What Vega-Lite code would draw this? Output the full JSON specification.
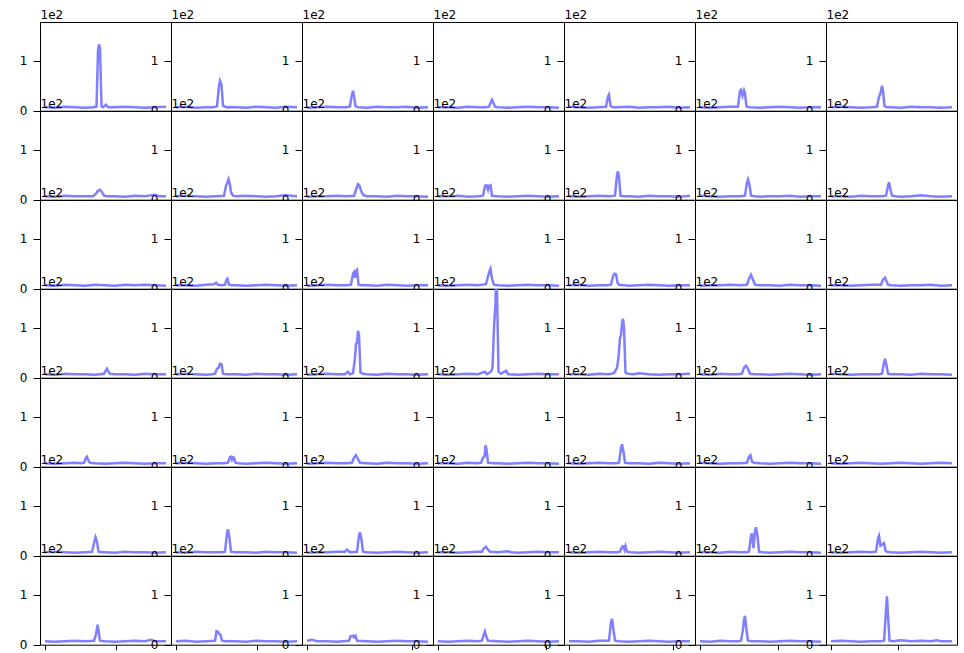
{"$schema":"https://vega.github.io/schema/vega-lite/v6.json","padding":{"left":18,"top":7,"right":5,"bottom":5},"bounds":"flush","spacing":0,
"data":{"values":[
{"r":0,"c":0,"x":0,"y":7},{"r":0,"c":0,"x":10,"y":6},{"r":0,"c":0,"x":20,"y":8},{"r":0,"c":0,"x":30,"y":7},{"r":0,"c":0,"x":40,"y":6},{"r":0,"c":0,"x":48,"y":7},{"r":0,"c":0,"x":51.5,"y":8},{"r":0,"c":0,"x":53,"y":120},{"r":0,"c":0,"x":54,"y":133},{"r":0,"c":0,"x":55,"y":125},{"r":0,"c":0,"x":56.5,"y":9},{"r":0,"c":0,"x":58,"y":7},{"r":0,"c":0,"x":61,"y":12},{"r":0,"c":0,"x":63,"y":7},{"r":0,"c":0,"x":70,"y":7},{"r":0,"c":0,"x":80,"y":8},{"r":0,"c":0,"x":90,"y":7},{"r":0,"c":0,"x":100,"y":6},{"r":0,"c":0,"x":110,"y":7},{"r":0,"c":0,"x":121,"y":8},
{"r":0,"c":1,"x":0,"y":7},{"r":0,"c":1,"x":10,"y":8},{"r":0,"c":1,"x":20,"y":6},{"r":0,"c":1,"x":30,"y":7},{"r":0,"c":1,"x":38,"y":7},{"r":0,"c":1,"x":41,"y":9},{"r":0,"c":1,"x":43,"y":50},{"r":0,"c":1,"x":44,"y":60},{"r":0,"c":1,"x":45.5,"y":52},{"r":0,"c":1,"x":47,"y":10},{"r":0,"c":1,"x":50,"y":7},{"r":0,"c":1,"x":60,"y":7},{"r":0,"c":1,"x":70,"y":6},{"r":0,"c":1,"x":80,"y":8},{"r":0,"c":1,"x":90,"y":7},{"r":0,"c":1,"x":100,"y":6},{"r":0,"c":1,"x":110,"y":8},{"r":0,"c":1,"x":121,"y":7},
{"r":0,"c":2,"x":0,"y":6},{"r":0,"c":2,"x":10,"y":7},{"r":0,"c":2,"x":20,"y":8},{"r":0,"c":2,"x":30,"y":7},{"r":0,"c":2,"x":40,"y":7},{"r":0,"c":2,"x":43,"y":9},{"r":0,"c":2,"x":44.5,"y":28},{"r":0,"c":2,"x":46,"y":40},{"r":0,"c":2,"x":47,"y":30},{"r":0,"c":2,"x":48.5,"y":9},{"r":0,"c":2,"x":51,"y":7},{"r":0,"c":2,"x":60,"y":6},{"r":0,"c":2,"x":70,"y":8},{"r":0,"c":2,"x":80,"y":7},{"r":0,"c":2,"x":90,"y":7},{"r":0,"c":2,"x":100,"y":8},{"r":0,"c":2,"x":110,"y":6},{"r":0,"c":2,"x":121,"y":7},
{"r":0,"c":3,"x":0,"y":7},{"r":0,"c":3,"x":10,"y":7},{"r":0,"c":3,"x":20,"y":6},{"r":0,"c":3,"x":30,"y":8},{"r":0,"c":3,"x":40,"y":7},{"r":0,"c":3,"x":48,"y":7},{"r":0,"c":3,"x":51,"y":8},{"r":0,"c":3,"x":53,"y":18},{"r":0,"c":3,"x":54,"y":22},{"r":0,"c":3,"x":55.5,"y":15},{"r":0,"c":3,"x":57,"y":8},{"r":0,"c":3,"x":60,"y":7},{"r":0,"c":3,"x":70,"y":6},{"r":0,"c":3,"x":80,"y":7},{"r":0,"c":3,"x":90,"y":8},{"r":0,"c":3,"x":100,"y":7},{"r":0,"c":3,"x":110,"y":7},{"r":0,"c":3,"x":121,"y":6},
{"r":0,"c":4,"x":0,"y":8},{"r":0,"c":4,"x":10,"y":7},{"r":0,"c":4,"x":20,"y":6},{"r":0,"c":4,"x":30,"y":7},{"r":0,"c":4,"x":37,"y":8},{"r":0,"c":4,"x":39,"y":28},{"r":0,"c":4,"x":40,"y":32},{"r":0,"c":4,"x":41.5,"y":10},{"r":0,"c":4,"x":44,"y":7},{"r":0,"c":4,"x":50,"y":7},{"r":0,"c":4,"x":60,"y":8},{"r":0,"c":4,"x":70,"y":6},{"r":0,"c":4,"x":80,"y":7},{"r":0,"c":4,"x":90,"y":7},{"r":0,"c":4,"x":100,"y":8},{"r":0,"c":4,"x":110,"y":6},{"r":0,"c":4,"x":121,"y":7},
{"r":0,"c":5,"x":0,"y":7},{"r":0,"c":5,"x":10,"y":6},{"r":0,"c":5,"x":20,"y":7},{"r":0,"c":5,"x":30,"y":8},{"r":0,"c":5,"x":38,"y":8},{"r":0,"c":5,"x":40,"y":40},{"r":0,"c":5,"x":41,"y":42},{"r":0,"c":5,"x":42.5,"y":30},{"r":0,"c":5,"x":44,"y":41},{"r":0,"c":5,"x":45,"y":35},{"r":0,"c":5,"x":46.5,"y":8},{"r":0,"c":5,"x":50,"y":7},{"r":0,"c":5,"x":60,"y":6},{"r":0,"c":5,"x":70,"y":7},{"r":0,"c":5,"x":80,"y":8},{"r":0,"c":5,"x":90,"y":7},{"r":0,"c":5,"x":100,"y":6},{"r":0,"c":5,"x":110,"y":7},{"r":0,"c":5,"x":121,"y":7},
{"r":0,"c":6,"x":0,"y":7},{"r":0,"c":6,"x":10,"y":8},{"r":0,"c":6,"x":20,"y":7},{"r":0,"c":6,"x":30,"y":6},{"r":0,"c":6,"x":40,"y":7},{"r":0,"c":6,"x":46,"y":8},{"r":0,"c":6,"x":48,"y":28},{"r":0,"c":6,"x":49.5,"y":35},{"r":0,"c":6,"x":51,"y":50},{"r":0,"c":6,"x":52,"y":40},{"r":0,"c":6,"x":53.5,"y":9},{"r":0,"c":6,"x":56,"y":7},{"r":0,"c":6,"x":60,"y":7},{"r":0,"c":6,"x":70,"y":6},{"r":0,"c":6,"x":80,"y":8},{"r":0,"c":6,"x":90,"y":7},{"r":0,"c":6,"x":100,"y":7},{"r":0,"c":6,"x":110,"y":6},{"r":0,"c":6,"x":121,"y":7},
{"r":1,"c":0,"x":0,"y":7},{"r":1,"c":0,"x":10,"y":6},{"r":1,"c":0,"x":20,"y":8},{"r":1,"c":0,"x":30,"y":7},{"r":1,"c":0,"x":40,"y":7},{"r":1,"c":0,"x":48,"y":7},{"r":1,"c":0,"x":51,"y":12},{"r":1,"c":0,"x":53,"y":18},{"r":1,"c":0,"x":55,"y":20},{"r":1,"c":0,"x":57,"y":15},{"r":1,"c":0,"x":59,"y":8},{"r":1,"c":0,"x":62,"y":7},{"r":1,"c":0,"x":70,"y":7},{"r":1,"c":0,"x":80,"y":6},{"r":1,"c":0,"x":90,"y":8},{"r":1,"c":0,"x":100,"y":7},{"r":1,"c":0,"x":110,"y":10},{"r":1,"c":0,"x":114,"y":7},{"r":1,"c":0,"x":121,"y":7},
{"r":1,"c":1,"x":0,"y":7},{"r":1,"c":1,"x":10,"y":8},{"r":1,"c":1,"x":20,"y":7},{"r":1,"c":1,"x":30,"y":6},{"r":1,"c":1,"x":40,"y":7},{"r":1,"c":1,"x":48,"y":8},{"r":1,"c":1,"x":50,"y":28},{"r":1,"c":1,"x":51,"y":32},{"r":1,"c":1,"x":52.5,"y":41},{"r":1,"c":1,"x":54,"y":30},{"r":1,"c":1,"x":55,"y":15},{"r":1,"c":1,"x":57,"y":8},{"r":1,"c":1,"x":60,"y":7},{"r":1,"c":1,"x":70,"y":8},{"r":1,"c":1,"x":80,"y":7},{"r":1,"c":1,"x":90,"y":6},{"r":1,"c":1,"x":100,"y":7},{"r":1,"c":1,"x":110,"y":9},{"r":1,"c":1,"x":121,"y":7},
{"r":1,"c":2,"x":0,"y":6},{"r":1,"c":2,"x":10,"y":7},{"r":1,"c":2,"x":20,"y":7},{"r":1,"c":2,"x":30,"y":8},{"r":1,"c":2,"x":40,"y":7},{"r":1,"c":2,"x":47,"y":8},{"r":1,"c":2,"x":49,"y":20},{"r":1,"c":2,"x":51,"y":31},{"r":1,"c":2,"x":52.5,"y":28},{"r":1,"c":2,"x":54,"y":18},{"r":1,"c":2,"x":56,"y":10},{"r":1,"c":2,"x":58,"y":8},{"r":1,"c":2,"x":60,"y":7},{"r":1,"c":2,"x":70,"y":7},{"r":1,"c":2,"x":80,"y":6},{"r":1,"c":2,"x":90,"y":8},{"r":1,"c":2,"x":100,"y":7},{"r":1,"c":2,"x":110,"y":7},{"r":1,"c":2,"x":121,"y":6},
{"r":1,"c":3,"x":0,"y":7},{"r":1,"c":3,"x":10,"y":7},{"r":1,"c":3,"x":20,"y":8},{"r":1,"c":3,"x":30,"y":6},{"r":1,"c":3,"x":40,"y":7},{"r":1,"c":3,"x":45,"y":8},{"r":1,"c":3,"x":47,"y":28},{"r":1,"c":3,"x":48.5,"y":29},{"r":1,"c":3,"x":50,"y":20},{"r":1,"c":3,"x":51,"y":28},{"r":1,"c":3,"x":52.5,"y":29},{"r":1,"c":3,"x":54,"y":8},{"r":1,"c":3,"x":60,"y":7},{"r":1,"c":3,"x":70,"y":6},{"r":1,"c":3,"x":80,"y":7},{"r":1,"c":3,"x":90,"y":8},{"r":1,"c":3,"x":100,"y":7},{"r":1,"c":3,"x":110,"y":6},{"r":1,"c":3,"x":121,"y":7},
{"r":1,"c":4,"x":0,"y":7},{"r":1,"c":4,"x":10,"y":6},{"r":1,"c":4,"x":20,"y":7},{"r":1,"c":4,"x":30,"y":8},{"r":1,"c":4,"x":40,"y":7},{"r":1,"c":4,"x":46,"y":8},{"r":1,"c":4,"x":48,"y":50},{"r":1,"c":4,"x":49,"y":57},{"r":1,"c":4,"x":50,"y":45},{"r":1,"c":4,"x":51.5,"y":8},{"r":1,"c":4,"x":55,"y":7},{"r":1,"c":4,"x":60,"y":7},{"r":1,"c":4,"x":70,"y":6},{"r":1,"c":4,"x":80,"y":8},{"r":1,"c":4,"x":90,"y":7},{"r":1,"c":4,"x":100,"y":7},{"r":1,"c":4,"x":110,"y":6},{"r":1,"c":4,"x":121,"y":8},
{"r":1,"c":5,"x":0,"y":8},{"r":1,"c":5,"x":10,"y":7},{"r":1,"c":5,"x":20,"y":6},{"r":1,"c":5,"x":30,"y":7},{"r":1,"c":5,"x":40,"y":7},{"r":1,"c":5,"x":45,"y":8},{"r":1,"c":5,"x":47,"y":35},{"r":1,"c":5,"x":48,"y":41},{"r":1,"c":5,"x":49.5,"y":30},{"r":1,"c":5,"x":51,"y":8},{"r":1,"c":5,"x":55,"y":7},{"r":1,"c":5,"x":60,"y":6},{"r":1,"c":5,"x":70,"y":7},{"r":1,"c":5,"x":80,"y":7},{"r":1,"c":5,"x":90,"y":8},{"r":1,"c":5,"x":100,"y":6},{"r":1,"c":5,"x":110,"y":7},{"r":1,"c":5,"x":121,"y":7},
{"r":1,"c":6,"x":0,"y":7},{"r":1,"c":6,"x":10,"y":7},{"r":1,"c":6,"x":20,"y":6},{"r":1,"c":6,"x":30,"y":8},{"r":1,"c":6,"x":40,"y":7},{"r":1,"c":6,"x":50,"y":7},{"r":1,"c":6,"x":55,"y":8},{"r":1,"c":6,"x":57,"y":28},{"r":1,"c":6,"x":58,"y":35},{"r":1,"c":6,"x":59.5,"y":20},{"r":1,"c":6,"x":61,"y":8},{"r":1,"c":6,"x":65,"y":7},{"r":1,"c":6,"x":70,"y":6},{"r":1,"c":6,"x":80,"y":7},{"r":1,"c":6,"x":90,"y":9},{"r":1,"c":6,"x":100,"y":7},{"r":1,"c":6,"x":110,"y":6},{"r":1,"c":6,"x":121,"y":7},
{"r":2,"c":0,"x":0,"y":7},{"r":2,"c":0,"x":10,"y":6},{"r":2,"c":0,"x":20,"y":8},{"r":2,"c":0,"x":30,"y":7},{"r":2,"c":0,"x":40,"y":6},{"r":2,"c":0,"x":50,"y":8},{"r":2,"c":0,"x":60,"y":7},{"r":2,"c":0,"x":70,"y":6},{"r":2,"c":0,"x":80,"y":8},{"r":2,"c":0,"x":90,"y":7},{"r":2,"c":0,"x":100,"y":8},{"r":2,"c":0,"x":110,"y":7},{"r":2,"c":0,"x":121,"y":6},
{"r":2,"c":1,"x":0,"y":7},{"r":2,"c":1,"x":10,"y":7},{"r":2,"c":1,"x":20,"y":6},{"r":2,"c":1,"x":30,"y":8},{"r":2,"c":1,"x":38,"y":9},{"r":2,"c":1,"x":40,"y":12},{"r":2,"c":1,"x":42,"y":8},{"r":2,"c":1,"x":46,"y":7},{"r":2,"c":1,"x":49,"y":8},{"r":2,"c":1,"x":50.5,"y":18},{"r":2,"c":1,"x":51.5,"y":20},{"r":2,"c":1,"x":53,"y":8},{"r":2,"c":1,"x":56,"y":7},{"r":2,"c":1,"x":60,"y":7},{"r":2,"c":1,"x":70,"y":6},{"r":2,"c":1,"x":80,"y":7},{"r":2,"c":1,"x":90,"y":8},{"r":2,"c":1,"x":100,"y":7},{"r":2,"c":1,"x":110,"y":6},{"r":2,"c":1,"x":121,"y":7},
{"r":2,"c":2,"x":0,"y":6},{"r":2,"c":2,"x":10,"y":7},{"r":2,"c":2,"x":20,"y":8},{"r":2,"c":2,"x":30,"y":7},{"r":2,"c":2,"x":40,"y":7},{"r":2,"c":2,"x":44,"y":8},{"r":2,"c":2,"x":46,"y":30},{"r":2,"c":2,"x":47,"y":33},{"r":2,"c":2,"x":48,"y":22},{"r":2,"c":2,"x":49,"y":36},{"r":2,"c":2,"x":50,"y":38},{"r":2,"c":2,"x":51.5,"y":8},{"r":2,"c":2,"x":55,"y":7},{"r":2,"c":2,"x":60,"y":7},{"r":2,"c":2,"x":70,"y":6},{"r":2,"c":2,"x":80,"y":8},{"r":2,"c":2,"x":90,"y":7},{"r":2,"c":2,"x":100,"y":6},{"r":2,"c":2,"x":110,"y":7},{"r":2,"c":2,"x":121,"y":7},
{"r":2,"c":3,"x":0,"y":7},{"r":2,"c":3,"x":10,"y":6},{"r":2,"c":3,"x":20,"y":7},{"r":2,"c":3,"x":30,"y":8},{"r":2,"c":3,"x":40,"y":7},{"r":2,"c":3,"x":48,"y":9},{"r":2,"c":3,"x":50,"y":25},{"r":2,"c":3,"x":51.5,"y":35},{"r":2,"c":3,"x":52.5,"y":40},{"r":2,"c":3,"x":54,"y":20},{"r":2,"c":3,"x":56,"y":8},{"r":2,"c":3,"x":60,"y":7},{"r":2,"c":3,"x":70,"y":6},{"r":2,"c":3,"x":80,"y":7},{"r":2,"c":3,"x":90,"y":8},{"r":2,"c":3,"x":100,"y":7},{"r":2,"c":3,"x":110,"y":7},{"r":2,"c":3,"x":121,"y":6},
{"r":2,"c":4,"x":0,"y":7},{"r":2,"c":4,"x":10,"y":8},{"r":2,"c":4,"x":20,"y":6},{"r":2,"c":4,"x":30,"y":7},{"r":2,"c":4,"x":38,"y":7},{"r":2,"c":4,"x":42,"y":8},{"r":2,"c":4,"x":44,"y":25},{"r":2,"c":4,"x":45.5,"y":30},{"r":2,"c":4,"x":47,"y":29},{"r":2,"c":4,"x":48.5,"y":12},{"r":2,"c":4,"x":50,"y":8},{"r":2,"c":4,"x":55,"y":7},{"r":2,"c":4,"x":60,"y":6},{"r":2,"c":4,"x":70,"y":7},{"r":2,"c":4,"x":80,"y":8},{"r":2,"c":4,"x":90,"y":7},{"r":2,"c":4,"x":100,"y":6},{"r":2,"c":4,"x":110,"y":7},{"r":2,"c":4,"x":121,"y":7},
{"r":2,"c":5,"x":0,"y":6},{"r":2,"c":5,"x":10,"y":7},{"r":2,"c":5,"x":20,"y":7},{"r":2,"c":5,"x":30,"y":8},{"r":2,"c":5,"x":40,"y":7},{"r":2,"c":5,"x":47,"y":8},{"r":2,"c":5,"x":49,"y":20},{"r":2,"c":5,"x":51,"y":28},{"r":2,"c":5,"x":53,"y":18},{"r":2,"c":5,"x":55,"y":8},{"r":2,"c":5,"x":60,"y":7},{"r":2,"c":5,"x":70,"y":7},{"r":2,"c":5,"x":80,"y":6},{"r":2,"c":5,"x":90,"y":8},{"r":2,"c":5,"x":100,"y":7},{"r":2,"c":5,"x":110,"y":7},{"r":2,"c":5,"x":121,"y":6},
{"r":2,"c":6,"x":0,"y":7},{"r":2,"c":6,"x":10,"y":7},{"r":2,"c":6,"x":20,"y":6},{"r":2,"c":6,"x":30,"y":7},{"r":2,"c":6,"x":40,"y":8},{"r":2,"c":6,"x":50,"y":8},{"r":2,"c":6,"x":52,"y":18},{"r":2,"c":6,"x":54,"y":22},{"r":2,"c":6,"x":55.5,"y":15},{"r":2,"c":6,"x":57,"y":8},{"r":2,"c":6,"x":60,"y":7},{"r":2,"c":6,"x":70,"y":6},{"r":2,"c":6,"x":80,"y":7},{"r":2,"c":6,"x":90,"y":7},{"r":2,"c":6,"x":100,"y":8},{"r":2,"c":6,"x":110,"y":6},{"r":2,"c":6,"x":121,"y":7},
{"r":3,"c":0,"x":0,"y":7},{"r":3,"c":0,"x":10,"y":6},{"r":3,"c":0,"x":20,"y":8},{"r":3,"c":0,"x":30,"y":7},{"r":3,"c":0,"x":40,"y":7},{"r":3,"c":0,"x":50,"y":6},{"r":3,"c":0,"x":59,"y":8},{"r":3,"c":0,"x":61,"y":15},{"r":3,"c":0,"x":62,"y":18},{"r":3,"c":0,"x":63.5,"y":12},{"r":3,"c":0,"x":65,"y":8},{"r":3,"c":0,"x":70,"y":7},{"r":3,"c":0,"x":80,"y":7},{"r":3,"c":0,"x":90,"y":6},{"r":3,"c":0,"x":100,"y":8},{"r":3,"c":0,"x":110,"y":7},{"r":3,"c":0,"x":121,"y":7},
{"r":3,"c":1,"x":0,"y":7},{"r":3,"c":1,"x":10,"y":8},{"r":3,"c":1,"x":20,"y":7},{"r":3,"c":1,"x":30,"y":6},{"r":3,"c":1,"x":36,"y":7},{"r":3,"c":1,"x":39,"y":8},{"r":3,"c":1,"x":41,"y":18},{"r":3,"c":1,"x":42.5,"y":20},{"r":3,"c":1,"x":44,"y":28},{"r":3,"c":1,"x":45.5,"y":27},{"r":3,"c":1,"x":47,"y":8},{"r":3,"c":1,"x":50,"y":7},{"r":3,"c":1,"x":60,"y":7},{"r":3,"c":1,"x":70,"y":6},{"r":3,"c":1,"x":80,"y":8},{"r":3,"c":1,"x":90,"y":7},{"r":3,"c":1,"x":100,"y":7},{"r":3,"c":1,"x":110,"y":6},{"r":3,"c":1,"x":121,"y":7},
{"r":3,"c":2,"x":0,"y":6},{"r":3,"c":2,"x":10,"y":7},{"r":3,"c":2,"x":20,"y":8},{"r":3,"c":2,"x":30,"y":7},{"r":3,"c":2,"x":38,"y":7},{"r":3,"c":2,"x":41,"y":12},{"r":3,"c":2,"x":43,"y":7},{"r":3,"c":2,"x":46,"y":9},{"r":3,"c":2,"x":48,"y":40},{"r":3,"c":2,"x":49,"y":68},{"r":3,"c":2,"x":50,"y":70},{"r":3,"c":2,"x":51,"y":94},{"r":3,"c":2,"x":52,"y":85},{"r":3,"c":2,"x":53.5,"y":10},{"r":3,"c":2,"x":56,"y":8},{"r":3,"c":2,"x":60,"y":7},{"r":3,"c":2,"x":70,"y":6},{"r":3,"c":2,"x":80,"y":8},{"r":3,"c":2,"x":90,"y":7},{"r":3,"c":2,"x":100,"y":7},{"r":3,"c":2,"x":110,"y":6},{"r":3,"c":2,"x":121,"y":7},
{"r":3,"c":3,"x":0,"y":7},{"r":3,"c":3,"x":10,"y":6},{"r":3,"c":3,"x":20,"y":7},{"r":3,"c":3,"x":30,"y":8},{"r":3,"c":3,"x":40,"y":7},{"r":3,"c":3,"x":47,"y":12},{"r":3,"c":3,"x":49,"y":7},{"r":3,"c":3,"x":53,"y":12},{"r":3,"c":3,"x":54.5,"y":20},{"r":3,"c":3,"x":56,"y":100},{"r":3,"c":3,"x":56.8,"y":128},{"r":3,"c":3,"x":57.5,"y":150},{"r":3,"c":3,"x":58,"y":190},{"r":3,"c":3,"x":59,"y":175},{"r":3,"c":3,"x":60.5,"y":12},{"r":3,"c":3,"x":63,"y":8},{"r":3,"c":3,"x":68,"y":14},{"r":3,"c":3,"x":70,"y":7},{"r":3,"c":3,"x":80,"y":6},{"r":3,"c":3,"x":90,"y":7},{"r":3,"c":3,"x":100,"y":8},{"r":3,"c":3,"x":110,"y":7},{"r":3,"c":3,"x":121,"y":7},
{"r":3,"c":4,"x":0,"y":7},{"r":3,"c":4,"x":10,"y":7},{"r":3,"c":4,"x":20,"y":6},{"r":3,"c":4,"x":30,"y":8},{"r":3,"c":4,"x":40,"y":7},{"r":3,"c":4,"x":45,"y":9},{"r":3,"c":4,"x":48,"y":20},{"r":3,"c":4,"x":49.5,"y":40},{"r":3,"c":4,"x":51,"y":80},{"r":3,"c":4,"x":52,"y":85},{"r":3,"c":4,"x":53,"y":110},{"r":3,"c":4,"x":54,"y":118},{"r":3,"c":4,"x":55,"y":100},{"r":3,"c":4,"x":56.5,"y":10},{"r":3,"c":4,"x":59,"y":8},{"r":3,"c":4,"x":65,"y":7},{"r":3,"c":4,"x":70,"y":9},{"r":3,"c":4,"x":80,"y":7},{"r":3,"c":4,"x":90,"y":6},{"r":3,"c":4,"x":100,"y":7},{"r":3,"c":4,"x":110,"y":7},{"r":3,"c":4,"x":121,"y":8},
{"r":3,"c":5,"x":0,"y":7},{"r":3,"c":5,"x":10,"y":6},{"r":3,"c":5,"x":20,"y":8},{"r":3,"c":5,"x":30,"y":7},{"r":3,"c":5,"x":38,"y":7},{"r":3,"c":5,"x":42,"y":8},{"r":3,"c":5,"x":44,"y":20},{"r":3,"c":5,"x":46,"y":24},{"r":3,"c":5,"x":48,"y":18},{"r":3,"c":5,"x":50,"y":8},{"r":3,"c":5,"x":55,"y":7},{"r":3,"c":5,"x":60,"y":7},{"r":3,"c":5,"x":70,"y":6},{"r":3,"c":5,"x":80,"y":7},{"r":3,"c":5,"x":90,"y":8},{"r":3,"c":5,"x":100,"y":7},{"r":3,"c":5,"x":110,"y":6},{"r":3,"c":5,"x":121,"y":7},
{"r":3,"c":6,"x":0,"y":8},{"r":3,"c":6,"x":10,"y":7},{"r":3,"c":6,"x":20,"y":6},{"r":3,"c":6,"x":30,"y":7},{"r":3,"c":6,"x":40,"y":7},{"r":3,"c":6,"x":48,"y":7},{"r":3,"c":6,"x":51,"y":8},{"r":3,"c":6,"x":53,"y":30},{"r":3,"c":6,"x":54,"y":38},{"r":3,"c":6,"x":55.5,"y":25},{"r":3,"c":6,"x":57,"y":8},{"r":3,"c":6,"x":60,"y":7},{"r":3,"c":6,"x":70,"y":7},{"r":3,"c":6,"x":80,"y":6},{"r":3,"c":6,"x":90,"y":8},{"r":3,"c":6,"x":100,"y":7},{"r":3,"c":6,"x":110,"y":7},{"r":3,"c":6,"x":121,"y":6},
{"r":4,"c":0,"x":0,"y":7},{"r":4,"c":0,"x":10,"y":6},{"r":4,"c":0,"x":20,"y":7},{"r":4,"c":0,"x":30,"y":8},{"r":4,"c":0,"x":36,"y":7},{"r":4,"c":0,"x":39,"y":8},{"r":4,"c":0,"x":41,"y":18},{"r":4,"c":0,"x":42,"y":20},{"r":4,"c":0,"x":43.5,"y":12},{"r":4,"c":0,"x":45,"y":8},{"r":4,"c":0,"x":50,"y":7},{"r":4,"c":0,"x":60,"y":6},{"r":4,"c":0,"x":70,"y":7},{"r":4,"c":0,"x":80,"y":8},{"r":4,"c":0,"x":90,"y":7},{"r":4,"c":0,"x":100,"y":6},{"r":4,"c":0,"x":110,"y":7},{"r":4,"c":0,"x":121,"y":7},
{"r":4,"c":1,"x":0,"y":7},{"r":4,"c":1,"x":10,"y":8},{"r":4,"c":1,"x":20,"y":7},{"r":4,"c":1,"x":30,"y":6},{"r":4,"c":1,"x":40,"y":7},{"r":4,"c":1,"x":48,"y":7},{"r":4,"c":1,"x":52,"y":8},{"r":4,"c":1,"x":54,"y":19},{"r":4,"c":1,"x":55,"y":20},{"r":4,"c":1,"x":56,"y":14},{"r":4,"c":1,"x":57,"y":19},{"r":4,"c":1,"x":58,"y":18},{"r":4,"c":1,"x":59.5,"y":8},{"r":4,"c":1,"x":63,"y":7},{"r":4,"c":1,"x":70,"y":6},{"r":4,"c":1,"x":80,"y":7},{"r":4,"c":1,"x":90,"y":8},{"r":4,"c":1,"x":100,"y":7},{"r":4,"c":1,"x":110,"y":6},{"r":4,"c":1,"x":121,"y":7},
{"r":4,"c":2,"x":0,"y":6},{"r":4,"c":2,"x":10,"y":7},{"r":4,"c":2,"x":20,"y":8},{"r":4,"c":2,"x":30,"y":7},{"r":4,"c":2,"x":40,"y":7},{"r":4,"c":2,"x":45,"y":8},{"r":4,"c":2,"x":47,"y":18},{"r":4,"c":2,"x":49,"y":23},{"r":4,"c":2,"x":51,"y":15},{"r":4,"c":2,"x":53,"y":8},{"r":4,"c":2,"x":60,"y":7},{"r":4,"c":2,"x":70,"y":6},{"r":4,"c":2,"x":80,"y":8},{"r":4,"c":2,"x":90,"y":7},{"r":4,"c":2,"x":100,"y":7},{"r":4,"c":2,"x":110,"y":6},{"r":4,"c":2,"x":121,"y":7},
{"r":4,"c":3,"x":0,"y":7},{"r":4,"c":3,"x":10,"y":7},{"r":4,"c":3,"x":20,"y":6},{"r":4,"c":3,"x":30,"y":8},{"r":4,"c":3,"x":38,"y":7},{"r":4,"c":3,"x":43,"y":8},{"r":4,"c":3,"x":45,"y":18},{"r":4,"c":3,"x":46.5,"y":20},{"r":4,"c":3,"x":47.5,"y":43},{"r":4,"c":3,"x":48.5,"y":35},{"r":4,"c":3,"x":50,"y":8},{"r":4,"c":3,"x":55,"y":7},{"r":4,"c":3,"x":60,"y":7},{"r":4,"c":3,"x":70,"y":6},{"r":4,"c":3,"x":80,"y":7},{"r":4,"c":3,"x":90,"y":8},{"r":4,"c":3,"x":100,"y":7},{"r":4,"c":3,"x":110,"y":7},{"r":4,"c":3,"x":121,"y":6},
{"r":4,"c":4,"x":0,"y":7},{"r":4,"c":4,"x":10,"y":6},{"r":4,"c":4,"x":20,"y":7},{"r":4,"c":4,"x":30,"y":8},{"r":4,"c":4,"x":40,"y":7},{"r":4,"c":4,"x":47,"y":7},{"r":4,"c":4,"x":50,"y":8},{"r":4,"c":4,"x":52,"y":38},{"r":4,"c":4,"x":53,"y":45},{"r":4,"c":4,"x":54.5,"y":30},{"r":4,"c":4,"x":56,"y":8},{"r":4,"c":4,"x":60,"y":7},{"r":4,"c":4,"x":70,"y":7},{"r":4,"c":4,"x":80,"y":6},{"r":4,"c":4,"x":90,"y":8},{"r":4,"c":4,"x":100,"y":7},{"r":4,"c":4,"x":110,"y":6},{"r":4,"c":4,"x":121,"y":7},
{"r":4,"c":5,"x":0,"y":8},{"r":4,"c":5,"x":10,"y":7},{"r":4,"c":5,"x":20,"y":6},{"r":4,"c":5,"x":30,"y":7},{"r":4,"c":5,"x":40,"y":7},{"r":4,"c":5,"x":47,"y":8},{"r":4,"c":5,"x":49,"y":20},{"r":4,"c":5,"x":50.5,"y":23},{"r":4,"c":5,"x":52,"y":10},{"r":4,"c":5,"x":54,"y":8},{"r":4,"c":5,"x":60,"y":7},{"r":4,"c":5,"x":70,"y":6},{"r":4,"c":5,"x":80,"y":7},{"r":4,"c":5,"x":90,"y":8},{"r":4,"c":5,"x":100,"y":7},{"r":4,"c":5,"x":110,"y":7},{"r":4,"c":5,"x":121,"y":6},
{"r":4,"c":6,"x":0,"y":7},{"r":4,"c":6,"x":10,"y":6},{"r":4,"c":6,"x":20,"y":7},{"r":4,"c":6,"x":30,"y":8},{"r":4,"c":6,"x":40,"y":7},{"r":4,"c":6,"x":50,"y":6},{"r":4,"c":6,"x":60,"y":7},{"r":4,"c":6,"x":70,"y":8},{"r":4,"c":6,"x":80,"y":7},{"r":4,"c":6,"x":90,"y":6},{"r":4,"c":6,"x":100,"y":7},{"r":4,"c":6,"x":110,"y":8},{"r":4,"c":6,"x":121,"y":7},
{"r":5,"c":0,"x":0,"y":7},{"r":5,"c":0,"x":10,"y":8},{"r":5,"c":0,"x":20,"y":7},{"r":5,"c":0,"x":30,"y":6},{"r":5,"c":0,"x":40,"y":7},{"r":5,"c":0,"x":47,"y":8},{"r":5,"c":0,"x":49,"y":25},{"r":5,"c":0,"x":50.5,"y":37},{"r":5,"c":0,"x":52,"y":28},{"r":5,"c":0,"x":53.5,"y":8},{"r":5,"c":0,"x":57,"y":7},{"r":5,"c":0,"x":60,"y":7},{"r":5,"c":0,"x":70,"y":6},{"r":5,"c":0,"x":80,"y":8},{"r":5,"c":0,"x":90,"y":7},{"r":5,"c":0,"x":100,"y":7},{"r":5,"c":0,"x":110,"y":6},{"r":5,"c":0,"x":121,"y":7},
{"r":5,"c":1,"x":0,"y":7},{"r":5,"c":1,"x":10,"y":6},{"r":5,"c":1,"x":20,"y":8},{"r":5,"c":1,"x":30,"y":7},{"r":5,"c":1,"x":40,"y":7},{"r":5,"c":1,"x":46,"y":7},{"r":5,"c":1,"x":49,"y":8},{"r":5,"c":1,"x":51,"y":45},{"r":5,"c":1,"x":52,"y":53},{"r":5,"c":1,"x":53.5,"y":35},{"r":5,"c":1,"x":55,"y":8},{"r":5,"c":1,"x":60,"y":7},{"r":5,"c":1,"x":70,"y":7},{"r":5,"c":1,"x":80,"y":6},{"r":5,"c":1,"x":90,"y":8},{"r":5,"c":1,"x":100,"y":7},{"r":5,"c":1,"x":110,"y":7},{"r":5,"c":1,"x":121,"y":6},
{"r":5,"c":2,"x":0,"y":6},{"r":5,"c":2,"x":10,"y":7},{"r":5,"c":2,"x":20,"y":7},{"r":5,"c":2,"x":30,"y":8},{"r":5,"c":2,"x":38,"y":8},{"r":5,"c":2,"x":40,"y":12},{"r":5,"c":2,"x":43,"y":7},{"r":5,"c":2,"x":50,"y":8},{"r":5,"c":2,"x":52,"y":40},{"r":5,"c":2,"x":53,"y":47},{"r":5,"c":2,"x":54.5,"y":32},{"r":5,"c":2,"x":56,"y":8},{"r":5,"c":2,"x":60,"y":7},{"r":5,"c":2,"x":70,"y":6},{"r":5,"c":2,"x":80,"y":7},{"r":5,"c":2,"x":90,"y":8},{"r":5,"c":2,"x":100,"y":7},{"r":5,"c":2,"x":110,"y":6},{"r":5,"c":2,"x":121,"y":7},
{"r":5,"c":3,"x":0,"y":7},{"r":5,"c":3,"x":10,"y":7},{"r":5,"c":3,"x":20,"y":6},{"r":5,"c":3,"x":30,"y":7},{"r":5,"c":3,"x":40,"y":8},{"r":5,"c":3,"x":44,"y":8},{"r":5,"c":3,"x":46,"y":15},{"r":5,"c":3,"x":48,"y":18},{"r":5,"c":3,"x":50,"y":12},{"r":5,"c":3,"x":52,"y":8},{"r":5,"c":3,"x":60,"y":7},{"r":5,"c":3,"x":70,"y":9},{"r":5,"c":3,"x":73,"y":7},{"r":5,"c":3,"x":80,"y":6},{"r":5,"c":3,"x":90,"y":7},{"r":5,"c":3,"x":100,"y":8},{"r":5,"c":3,"x":110,"y":7},{"r":5,"c":3,"x":121,"y":7},
{"r":5,"c":4,"x":0,"y":7},{"r":5,"c":4,"x":10,"y":6},{"r":5,"c":4,"x":20,"y":7},{"r":5,"c":4,"x":30,"y":8},{"r":5,"c":4,"x":40,"y":7},{"r":5,"c":4,"x":48,"y":7},{"r":5,"c":4,"x":51,"y":8},{"r":5,"c":4,"x":53,"y":18},{"r":5,"c":4,"x":54.5,"y":19},{"r":5,"c":4,"x":55.5,"y":12},{"r":5,"c":4,"x":56.5,"y":19},{"r":5,"c":4,"x":58,"y":8},{"r":5,"c":4,"x":62,"y":7},{"r":5,"c":4,"x":70,"y":6},{"r":5,"c":4,"x":80,"y":7},{"r":5,"c":4,"x":90,"y":8},{"r":5,"c":4,"x":100,"y":7},{"r":5,"c":4,"x":110,"y":6},{"r":5,"c":4,"x":121,"y":7},
{"r":5,"c":5,"x":0,"y":7},{"r":5,"c":5,"x":10,"y":7},{"r":5,"c":5,"x":20,"y":6},{"r":5,"c":5,"x":30,"y":8},{"r":5,"c":5,"x":40,"y":7},{"r":5,"c":5,"x":46,"y":7},{"r":5,"c":5,"x":49,"y":8},{"r":5,"c":5,"x":51,"y":40},{"r":5,"c":5,"x":52,"y":45},{"r":5,"c":5,"x":53.5,"y":15},{"r":5,"c":5,"x":55,"y":50},{"r":5,"c":5,"x":56,"y":57},{"r":5,"c":5,"x":57.5,"y":40},{"r":5,"c":5,"x":59,"y":8},{"r":5,"c":5,"x":62,"y":7},{"r":5,"c":5,"x":70,"y":6},{"r":5,"c":5,"x":80,"y":7},{"r":5,"c":5,"x":90,"y":8},{"r":5,"c":5,"x":100,"y":7},{"r":5,"c":5,"x":110,"y":7},{"r":5,"c":5,"x":121,"y":6},
{"r":5,"c":6,"x":0,"y":7},{"r":5,"c":6,"x":10,"y":6},{"r":5,"c":6,"x":20,"y":7},{"r":5,"c":6,"x":30,"y":8},{"r":5,"c":6,"x":40,"y":7},{"r":5,"c":6,"x":45,"y":8},{"r":5,"c":6,"x":47,"y":35},{"r":5,"c":6,"x":48,"y":40},{"r":5,"c":6,"x":49.5,"y":20},{"r":5,"c":6,"x":51,"y":22},{"r":5,"c":6,"x":53,"y":25},{"r":5,"c":6,"x":54.5,"y":10},{"r":5,"c":6,"x":56,"y":8},{"r":5,"c":6,"x":60,"y":7},{"r":5,"c":6,"x":70,"y":6},{"r":5,"c":6,"x":80,"y":7},{"r":5,"c":6,"x":90,"y":8},{"r":5,"c":6,"x":100,"y":7},{"r":5,"c":6,"x":110,"y":6},{"r":5,"c":6,"x":121,"y":7},
{"r":6,"c":0,"x":0,"y":7},{"r":6,"c":0,"x":14.1,"y":6},{"r":6,"c":0,"x":28.2,"y":7},{"r":6,"c":0,"x":42.2,"y":8},{"r":6,"c":0,"x":56.3,"y":7},{"r":6,"c":0,"x":69,"y":8},{"r":6,"c":0,"x":71.8,"y":20},{"r":6,"c":0,"x":73.9,"y":40},{"r":6,"c":0,"x":75.3,"y":30},{"r":6,"c":0,"x":77.4,"y":8},{"r":6,"c":0,"x":84.5,"y":7},{"r":6,"c":0,"x":98.6,"y":6},{"r":6,"c":0,"x":112.6,"y":7},{"r":6,"c":0,"x":126.7,"y":8},{"r":6,"c":0,"x":140.8,"y":7},{"r":6,"c":0,"x":149.2,"y":10},{"r":6,"c":0,"x":154.9,"y":7},{"r":6,"c":0,"x":170.4,"y":7},
{"r":6,"c":1,"x":0,"y":7},{"r":6,"c":1,"x":12.4,"y":8},{"r":6,"c":1,"x":24.7,"y":6},{"r":6,"c":1,"x":37,"y":7},{"r":6,"c":1,"x":48.2,"y":8},{"r":6,"c":1,"x":50,"y":27},{"r":6,"c":1,"x":51.9,"y":26},{"r":6,"c":1,"x":53.1,"y":22},{"r":6,"c":1,"x":55,"y":20},{"r":6,"c":1,"x":56.8,"y":8},{"r":6,"c":1,"x":61.8,"y":7},{"r":6,"c":1,"x":74.1,"y":7},{"r":6,"c":1,"x":86.5,"y":6},{"r":6,"c":1,"x":98.8,"y":8},{"r":6,"c":1,"x":111.2,"y":7},{"r":6,"c":1,"x":123.5,"y":7},{"r":6,"c":1,"x":135.9,"y":6},{"r":6,"c":1,"x":149.4,"y":7},
{"r":6,"c":2,"x":0,"y":8},{"r":6,"c":2,"x":4.8,"y":10},{"r":6,"c":2,"x":9.5,"y":7},{"r":6,"c":2,"x":19,"y":7},{"r":6,"c":2,"x":28.6,"y":6},{"r":6,"c":2,"x":40,"y":8},{"r":6,"c":2,"x":41.4,"y":17},{"r":6,"c":2,"x":43.8,"y":18},{"r":6,"c":2,"x":44.7,"y":15},{"r":6,"c":2,"x":46.2,"y":18},{"r":6,"c":2,"x":47.6,"y":8},{"r":6,"c":2,"x":57.1,"y":7},{"r":6,"c":2,"x":66.6,"y":6},{"r":6,"c":2,"x":76.2,"y":7},{"r":6,"c":2,"x":85.7,"y":8},{"r":6,"c":2,"x":95.2,"y":7},{"r":6,"c":2,"x":104.7,"y":7},{"r":6,"c":2,"x":115.2,"y":6},
{"r":6,"c":3,"x":0,"y":7},{"r":6,"c":3,"x":9.3,"y":6},{"r":6,"c":3,"x":18.5,"y":7},{"r":6,"c":3,"x":27.8,"y":8},{"r":6,"c":3,"x":37,"y":7},{"r":6,"c":3,"x":40.7,"y":8},{"r":6,"c":3,"x":42.6,"y":22},{"r":6,"c":3,"x":43.5,"y":27},{"r":6,"c":3,"x":44.9,"y":15},{"r":6,"c":3,"x":46.3,"y":8},{"r":6,"c":3,"x":55.6,"y":7},{"r":6,"c":3,"x":64.8,"y":6},{"r":6,"c":3,"x":74.1,"y":7},{"r":6,"c":3,"x":83.3,"y":8},{"r":6,"c":3,"x":92.6,"y":7},{"r":6,"c":3,"x":101.9,"y":6},{"r":6,"c":3,"x":112,"y":7},
{"r":6,"c":4,"x":0,"y":7},{"r":6,"c":4,"x":9.6,"y":7},{"r":6,"c":4,"x":19.2,"y":6},{"r":6,"c":4,"x":28.8,"y":8},{"r":6,"c":4,"x":38.4,"y":8},{"r":6,"c":4,"x":40.3,"y":45},{"r":6,"c":4,"x":41.3,"y":52},{"r":6,"c":4,"x":42.7,"y":30},{"r":6,"c":4,"x":44.2,"y":8},{"r":6,"c":4,"x":48,"y":7},{"r":6,"c":4,"x":57.6,"y":6},{"r":6,"c":4,"x":67.2,"y":7},{"r":6,"c":4,"x":76.8,"y":8},{"r":6,"c":4,"x":86.4,"y":7},{"r":6,"c":4,"x":96,"y":6},{"r":6,"c":4,"x":105.6,"y":7},{"r":6,"c":4,"x":116.2,"y":7},
{"r":6,"c":5,"x":0,"y":7},{"r":6,"c":5,"x":12.8,"y":6},{"r":6,"c":5,"x":25.6,"y":8},{"r":6,"c":5,"x":38.4,"y":7},{"r":6,"c":5,"x":48.6,"y":7},{"r":6,"c":5,"x":52.5,"y":8},{"r":6,"c":5,"x":55,"y":30},{"r":6,"c":5,"x":56.3,"y":50},{"r":6,"c":5,"x":57.6,"y":58},{"r":6,"c":5,"x":59.5,"y":30},{"r":6,"c":5,"x":61.4,"y":8},{"r":6,"c":5,"x":66.6,"y":7},{"r":6,"c":5,"x":76.8,"y":7},{"r":6,"c":5,"x":89.6,"y":6},{"r":6,"c":5,"x":102.4,"y":7},{"r":6,"c":5,"x":115.2,"y":8},{"r":6,"c":5,"x":128,"y":7},{"r":6,"c":5,"x":140.8,"y":7},{"r":6,"c":5,"x":154.9,"y":6},
{"r":6,"c":6,"x":0,"y":7},{"r":6,"c":6,"x":14.9,"y":8},{"r":6,"c":6,"x":29.8,"y":7},{"r":6,"c":6,"x":44.7,"y":6},{"r":6,"c":6,"x":59.6,"y":7},{"r":6,"c":6,"x":74.5,"y":7},{"r":6,"c":6,"x":79,"y":8},{"r":6,"c":6,"x":82,"y":70},{"r":6,"c":6,"x":83.4,"y":97},{"r":6,"c":6,"x":84.9,"y":60},{"r":6,"c":6,"x":87.2,"y":8},{"r":6,"c":6,"x":92.4,"y":7},{"r":6,"c":6,"x":104.3,"y":9},{"r":6,"c":6,"x":119.2,"y":7},{"r":6,"c":6,"x":134.1,"y":8},{"r":6,"c":6,"x":149,"y":7},{"r":6,"c":6,"x":157.9,"y":9},{"r":6,"c":6,"x":163.9,"y":7},{"r":6,"c":6,"x":180.3,"y":7}
]},
"facet":{"row":{"field":"r","type":"ordinal","title":null,"header":{"labels":false}},"column":{"field":"c","type":"ordinal","title":null,"header":{"labels":false}}},
"spec":{"width":131,"height":88.7,
"mark":{"type":"line","clip":true,"color":"#7f7fff","strokeWidth":2.5},
"encoding":{
"x":{"field":"x","type":"quantitative","scale":{"nice":false,"zero":false,"padding":5},"axis":{"values":[0,100],"labels":false,"domain":false,"grid":false,"ticks":true,"tickSize":5,"title":null}},
"y":{"field":"y","type":"quantitative","scale":{"domain":[0,178],"nice":false,"zero":false},"axis":{"values":[0,100],"labelExpr":"datum.value/100","domain":false,"grid":false,"tickSize":7,"labelPadding":6,"title":"1e2","titleAngle":0,"titleAlign":"left","titleBaseline":"alphabetic","titleX":0,"titleY":-4}}
}},
"resolve":{"scale":{"x":"independent"},"axis":{"x":"independent","y":"independent"}},
"config":{"view":{"stroke":"#000","strokeWidth":1,"fill":"white"},"font":"DejaVu Sans","axis":{"labelFont":"DejaVu Sans","labelFontSize":12,"labelColor":"#000","tickColor":"#000","tickWidth":1,"titleFont":"DejaVu Sans","titleFontSize":12,"titleFontWeight":"normal","titleColor":"#000","titlePadding":0}}
}
